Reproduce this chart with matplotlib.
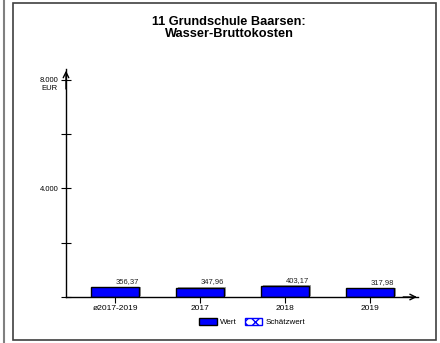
import matplotlib.pyplot as plt
import matplotlib.patches as mpatches
from matplotlib.lines import Line2D

plt.rcParams['font.family'] = ['Liberation Sans', 'DejaVu Sans']

categories = ['ø2017-2019', '2017', '2018', '2019']
values = [356.37, 347.96, 403.17, 317.98]
yticks = [0, 2000, 4000, 6000, 8000]
ytick_labels = ['', '', '4.000', '', '8.000']
title = '11 Grundschule Baarsen:\nWasser-Bruttokosten'

fig = plt.figure(figsize=(4.4, 3.43), dpi=100)
W, H = 440, 343

# panel borders
fig.add_artist(Line2D([3.5 / W, 3.5 / W], [0, 1], color='#808080', lw=1.5))
fig.add_artist(mpatches.Rectangle((13 / W, 3 / H), (436 - 13) / W, (340 - 3) / H,
                                  transform=fig.transFigure, fill=False,
                                  edgecolor='#404040', lw=1.2))

ax = fig.add_axes([66 / W, 46 / H, (418 - 66) / W, (297 - 69) / H])
x = list(range(len(categories)))
bw = 0.565

# shadow then bars
ax.bar([i + 0.02 for i in x], values, width=bw, bottom=25, color='#a0a0a0',
       edgecolor='none', zorder=1)
ax.bar(x, values, width=bw, color='#0000ff', edgecolor='black', lw=1.0, zorder=2)
for i, v in zip(x, values):
    ax.text(i + bw / 2, v + 80, f'{v:.2f}'.replace('.', ','), ha='right', va='bottom',
            fontsize=5.5, color='#202020')

ax.set_xlim(-0.58, 3.56)
ax.set_ylim(0, 8400)
for s in ['top', 'right']:
    ax.spines[s].set_visible(False)
for s in ['left', 'bottom']:
    ax.spines[s].set_linewidth(1.0)

ax.set_xticks(x)
ax.set_xticklabels(categories, fontsize=6)
ax.tick_params(axis='x', direction='out', length=4, width=0.8, pad=2)
ax.set_yticks(yticks)
ax.set_yticklabels(ytick_labels, fontsize=5.5)
ax.tick_params(axis='y', direction='inout', length=7, width=0.8, pad=2)
ax.annotate('EUR', xy=(0, 8000), xycoords=ax.get_yaxis_transform(),
            xytext=(-6, -3.5), textcoords='offset points', ha='right', va='top',
            fontsize=5.5)

# axis arrows
ax.annotate('', xy=(0, 1.005), xytext=(0, 0.9), xycoords='axes fraction',
            arrowprops=dict(arrowstyle='->', lw=1.0, color='black'))
ax.annotate('', xy=(1.005, 0), xytext=(0.95, 0), xycoords='axes fraction',
            arrowprops=dict(arrowstyle='->', lw=1.0, color='black'))

fig.text(229 / W, 1 - 28 / H, title, ha='center', va='center', fontsize=9.2,
         fontweight='bold', linespacing=1.1)

handles = [mpatches.Patch(facecolor='#0000ff', edgecolor='black', label='Wert'),
           mpatches.Patch(facecolor='white', edgecolor='#0000ff', hatch='xxx',
                          label='Schätzwert')]
fig.legend(handles=handles, loc='center', bbox_to_anchor=(252 / W, 1 - 322 / H),
           ncol=2, frameon=False, fontsize=5.8, handlelength=2.2, handleheight=0.9,
           columnspacing=1.0, handletextpad=0.4)

fig.savefig('out.png', dpi=100)
